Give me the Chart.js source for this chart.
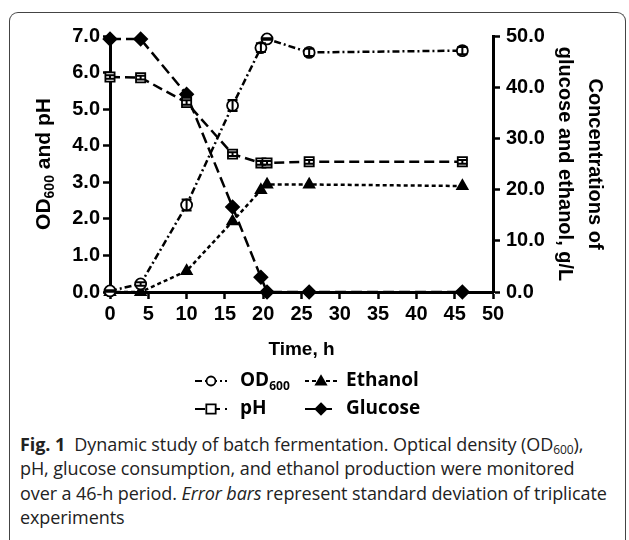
<!DOCTYPE html>
<html>
<head>
<meta charset="utf-8">
<script src="https://cdn.jsdelivr.net/npm/chart.js@4.4.1/dist/chart.umd.min.js"></script>
<style>
  html, body { margin: 0; padding: 0; background: #fff; }
  #wrap { position: relative; width: 629px; height: 540px; overflow: hidden; }
  #frame { position: absolute; left: 9px; top: 12px; width: 615px; height: 560px;
           border: 1.5px solid #444; border-bottom: none; border-radius: 9px; }
  #chartBox { position: absolute; left: 0; top: 0; width: 629px; height: 430px; }
  #cap { position: absolute; left: 20px; top: 432px; font-family: "Open Sans", sans-serif;
         font-size: 18px; line-height: 24.4px; color: #222; white-space: nowrap; letter-spacing: -0.08px; }
  #cap sub { font-size: 12px; vertical-align: -3px; line-height: 0; }
</style>
</head>
<body>
<div id="wrap">
  <div id="chartBox"><canvas id="grafico" width="629" height="430"></canvas></div>
  <div id="cap"><b>Fig. 1</b>&nbsp; Dynamic study of batch fermentation. Optical density (OD<sub>600</sub>),<br>pH, glucose consumption, and ethanol production were monitored<br>over a 46-h period. <i>Error bars</i> represent standard deviation of triplicate<br>experiments</div>
  <div id="frame"></div>
</div>
<script>
// Dados (tempo em h)
const times = [0, 4, 10, 16, 19.7, 20.5, 26, 46];
const od600 = [0.03, 0.22, 2.38, 5.1, 6.68, 6.92, 6.55, 6.6];
const od600Err = [0.02, 0.05, 0.15, 0.15, 0.12, 0.02, 0.1, 0.1];
const ph = [5.88, 5.86, 5.18, 3.77, 3.53, 3.53, 3.56, 3.56];
const phErr = [0.05, 0.05, 0.06, 0.05, 0.05, 0.05, 0.05, 0.05];
const ethanol = [0, 0, 4.1, 13.8, 19.9, 21.0, 21.0, 20.7];   // g/L
const glucose = [49.4, 49.4, 38.6, 16.6, 2.9, 0, 0, 0];       // g/L

const xTicks = [0, 5, 10, 15, 20, 25, 30, 35, 40, 45, 50];
const leftTicks = [0, 1, 2, 3, 4, 5, 6, 7];
const rightTicks = [0, 10, 20, 30, 40, 50];

const pares = (ys) => times.map((t, i) => ({ x: t, y: ys[i] }));

const tickFont = { family: "Liberation Sans", weight: "bold", size: 20 };

// barras de erro
const errorBars = {
    id: "errorBars",
    afterDatasetsDraw(chart) {
        const { ctx } = chart;
        const xS = chart.scales.x, yS = chart.scales.y;
        [[od600, od600Err], [ph, phErr]].forEach(([vals, errs]) => {
            vals.forEach((v, i) => {
                if (!errs[i]) return;
                const x = xS.getPixelForValue(times[i]);
                const top = yS.getPixelForValue(v + errs[i]);
                const bot = yS.getPixelForValue(v - errs[i]);
                ctx.save();
                ctx.strokeStyle = "#000";
                ctx.lineWidth = 2;
                ctx.beginPath();
                ctx.moveTo(x, top); ctx.lineTo(x, bot);
                ctx.moveTo(x - 5, top); ctx.lineTo(x + 5, top);
                ctx.moveTo(x - 5, bot); ctx.lineTo(x + 5, bot);
                ctx.stroke();
                ctx.restore();
            });
        });
    }
};

function marcador(ctx, style, x, y, r, fill) {
    ctx.beginPath();
    if (style === "circle") {
        ctx.arc(x, y, r, 0, Math.PI * 2);
    } else if (style === "rect") {
        ctx.rect(x - r * 0.85, y - r * 0.85, r * 1.7, r * 1.7);
    } else if (style === "triangle") {
        ctx.moveTo(x, y - r); ctx.lineTo(x + r, y + r * 0.7); ctx.lineTo(x - r, y + r * 0.7); ctx.closePath();
    } else {
        ctx.moveTo(x, y - r); ctx.lineTo(x + r, y); ctx.lineTo(x, y + r); ctx.lineTo(x - r, y); ctx.closePath();
    }
    ctx.fillStyle = fill;
    ctx.fill();
    ctx.lineWidth = 1.8;
    ctx.strokeStyle = "#000";
    ctx.stroke();
}

function textoSub(ctx, partes, x, y, size) {
    // partes: [[texto, sub?], ...]
    let cx = x;
    partes.forEach(([t, sub]) => {
        ctx.font = "bold " + (sub ? Math.round(size * 0.65) : size) + "px " + ctx._fam;
        ctx.fillText(t, cx, sub ? y + size * 0.28 : y);
        cx += ctx.measureText(t).width;
    });
    return cx - x;
}

function larguraSub(ctx, partes, size) {
    let w = 0;
    partes.forEach(([t, sub]) => {
        ctx.font = "bold " + (sub ? Math.round(size * 0.65) : size) + "px " + ctx._fam;
        w += ctx.measureText(t).width;
    });
    return w;
}

// titulo do eixo esquerdo e legenda
const extras = {
    id: "extras",
    afterDraw(chart) {
        const { ctx, chartArea } = chart;
        ctx.save();
        ctx.fillStyle = "#000";
        ctx.textBaseline = "middle";
        ctx.textAlign = "left";

        // OD600 and pH
        ctx._fam = "'Liberation Sans', Arial, sans-serif";
        const tit = [["OD", false], ["600", true], [" and pH", false]];
        const w = larguraSub(ctx, tit, 21);
        ctx.save();
        ctx.translate(44, (chartArea.top + chartArea.bottom) / 2);
        ctx.rotate(-Math.PI / 2);
        textoSub(ctx, tit, -w / 2, 0, 21);
        ctx.restore();

        // legenda
        ctx._fam = "'Open Sans', sans-serif";
        const itens = [
            { ds: 0, x: 195, tx: 240, y: 381, texto: [["OD", false], ["600", true]] },
            { ds: 2, x: 305, tx: 346, y: 381, texto: [["Ethanol", false]] },
            { ds: 1, x: 195, tx: 240, y: 409, texto: [["pH", false]] },
            { ds: 3, x: 305, tx: 346, y: 409, texto: [["Glucose", false]] }
        ];
        itens.forEach(it => {
            const d = chart.data.datasets[it.ds];
            ctx.save();
            ctx.strokeStyle = "#000";
            ctx.lineWidth = 2.2;
            ctx.setLineDash(d.borderDash);
            ctx.beginPath();
            ctx.moveTo(it.x, it.y); ctx.lineTo(it.x + 32, it.y);
            ctx.stroke();
            ctx.setLineDash([]);
            marcador(ctx, d.pointStyle, it.x + 16, it.y, d.pointRadius - 1, d.pointBackgroundColor);
            ctx.restore();
            ctx.fillStyle = "#000";
            textoSub(ctx, it.texto, it.tx, it.y, 19);
        });
        ctx.restore();
    }
};

const base = {
    borderColor: "#000",
    borderWidth: 2.5,
    pointBorderColor: "#000",
    pointBorderWidth: 1.8,
    tension: 0,
    fill: false,
    clip: false
};

const ctx = document.getElementById("grafico").getContext("2d");
const grafico = new Chart(ctx, {
    type: "line",
    data: {
        datasets: [
            { ...base, label: "OD600", data: pares(od600), yAxisID: "y", pointStyle: "circle",
              pointRadius: 5.5, pointBackgroundColor: "#fff", borderDash: [7, 3, 2, 3] },
            { ...base, label: "pH", data: pares(ph), yAxisID: "y", pointStyle: "rect",
              pointRadius: 6.5, pointBackgroundColor: "#fff", borderDash: [10, 5] },
            { ...base, label: "Ethanol", data: pares(ethanol), yAxisID: "y2", pointStyle: "triangle",
              pointRadius: 6, pointBackgroundColor: "#000", borderDash: [4, 3] },
            { ...base, label: "Glucose", data: pares(glucose), yAxisID: "y2", pointStyle: "rectRot",
              pointRadius: 6.5, pointBackgroundColor: "#000", borderDash: [11, 5] }
        ]
    },
    options: {
        responsive: false,
        animation: false,
        layout: { padding: { top: 36, left: 0, right: 0, bottom: 0 } },
        plugins: { legend: { display: false }, tooltip: { enabled: false } },
        scales: {
            x: {
                type: "linear", min: 0, max: 50,
                afterBuildTicks: s => { s.ticks = xTicks.map(v => ({ value: v })); },
                afterFit: s => { s.height = 138; },
                ticks: { color: "#000", font: tickFont, padding: 3, maxRotation: 0 },
                grid: { drawOnChartArea: false, tickLength: 7, tickWidth: 2.5, color: "#000" },
                border: { color: "#000", width: 3 },
                title: { display: true, text: "Time, h", color: "#000",
                         font: { family: "Liberation Sans", weight: "bold", size: 19 },
                         padding: { top: 0, bottom: 69 } }
            },
            y: {
                position: "left", min: 0, max: 7,
                afterBuildTicks: s => { s.ticks = leftTicks.map(v => ({ value: v })); },
                afterFit: s => { s.width = 110; },
                ticks: { color: "#000", font: tickFont, padding: 3, callback: v => v.toFixed(1) },
                grid: { drawOnChartArea: false, tickLength: 7, tickWidth: 2.5, color: "#000" },
                border: { color: "#000", width: 3 }
            },
            y2: {
                position: "right", min: 0, max: 50,
                afterBuildTicks: s => { s.ticks = rightTicks.map(v => ({ value: v })); },
                afterFit: s => { s.width = 136; },
                ticks: { color: "#000", font: tickFont, padding: 6, callback: v => v.toFixed(1) },
                grid: { drawOnChartArea: false, tickLength: 7, tickWidth: 2.5, color: "#000" },
                border: { color: "#000", width: 3 },
                title: { display: true, text: ["Concentrations of", "glucose and ethanol, g/L"], color: "#000",
                         font: { family: "Liberation Sans", weight: "bold", size: 20, lineHeight: 1.5 },
                         padding: { top: 19, bottom: 0 } }
            }
        }
    },
    plugins: [errorBars, extras]
});
</script>
</body>
</html>
